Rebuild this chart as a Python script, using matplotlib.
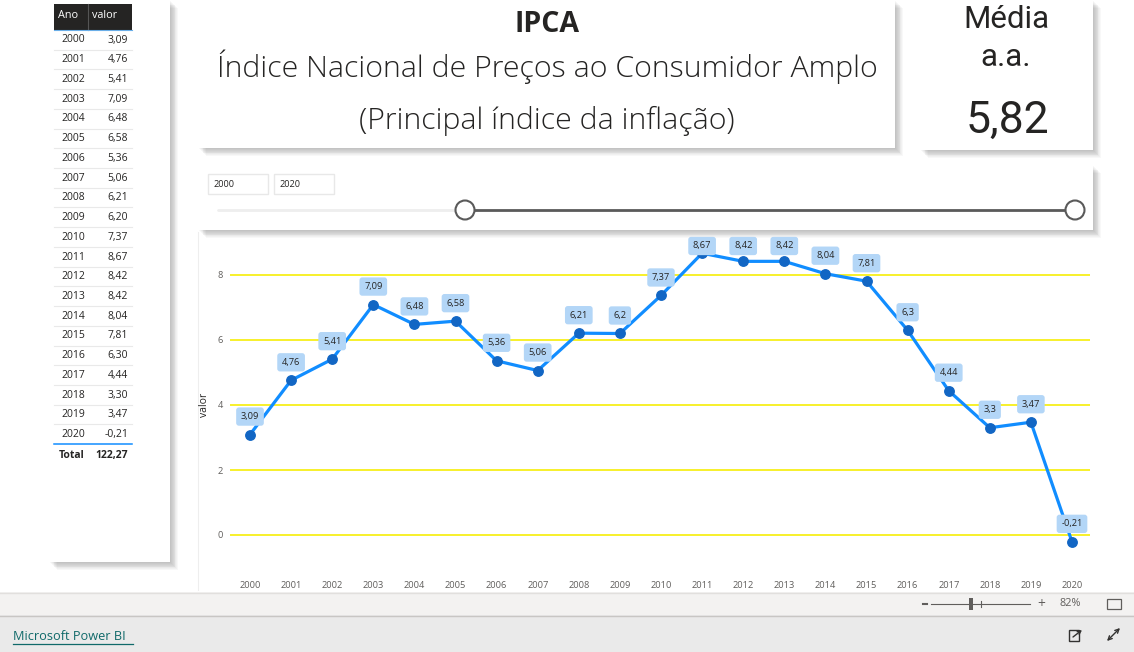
import numpy as np
import matplotlib.pyplot as plt
from matplotlib.patches import Rectangle, Circle

anos = [2000, 2001, 2002, 2003, 2004, 2005, 2006, 2007, 2008, 2009, 2010,
        2011, 2012, 2013, 2014, 2015, 2016, 2017, 2018, 2019, 2020]
valor = [3.09, 4.76, 5.41, 7.09, 6.48, 6.58, 5.36, 5.06, 6.21, 6.20, 7.37,
         8.67, 8.42, 8.42, 8.04, 7.81, 6.30, 4.44, 3.30, 3.47, -0.21]
yticks = [0, 2, 4, 6, 8]

titulo = "IPCA"
subtitulo = "Índice Nacional de Preços ao Consumidor Amplo"
nota = "(Principal índice da inflação)"

FONT = ['Open Sans', 'DejaVu Sans']
TXT = '#252423'
GRAY = '#605E5C'


def br(v, nd=2):
    return f"{v:.{nd}f}".replace('.', ',')


def br_short(v):
    return f"{v:g}".replace('.', ',')


W, H = 1134, 652
fig = plt.figure(figsize=(W / 100, H / 100), dpi=100)
fig.patch.set_facecolor('white')
bg = fig.add_axes([0, 0, 1, 1])
bg.set_xlim(0, W)
bg.set_ylim(H, 0)
bg.axis('off')
bg.set_zorder(0)


def card(x0, y0, x1, y1, z, shadow=True):
    if shadow:
        for i in range(1, 10):
            bg.add_patch(Rectangle((x0 + i * 0.9, y0 + i * 0.9), x1 - x0, y1 - y0,
                                   color='black', alpha=0.028, lw=0, zorder=z))
    bg.add_patch(Rectangle((x0, y0), x1 - x0, y1 - y0, color='white', lw=0, zorder=z + 0.5))


# cards
card(198, 232, 1093, 592, 1, shadow=False)
bg.plot([198, 198], [232, 590], color='#eeeeee', lw=0.8, zorder=2)
card(198, 165, 1093, 230, 3)
card(198, 0, 895, 148, 5)
card(920, 0, 1093, 150, 7)
card(49, 0, 170, 562, 9)

# title card
bg.text(547, 25, titulo, ha='center', va='center', fontsize=20.5, fontweight='bold',
        color=TXT, family=FONT, zorder=20)
bg.text(547, 67, subtitulo, ha='center', va='center', fontsize=21.8, fontweight='light',
        color=TXT, family=FONT, zorder=20)
bg.text(547, 121, nota, ha='center', va='center', fontsize=21.8, fontweight='light',
        color=TXT, family=FONT, zorder=20)

# average card
media = sum(valor) / len(valor)
NUM = ['Roboto', 'DejaVu Sans']
bg.text(1006, 20, "Média", ha='center', va='center', fontsize=22.5, color=TXT,
        family=NUM, zorder=20)
bg.text(1006, 58, "a.a.", ha='center', va='center', fontsize=22.5, color=TXT,
        family=NUM, zorder=20)
bg.text(1007, 121, br(media), ha='center', va='center', fontsize=32, color=TXT,
        family=NUM, zorder=20)

# slicer
for bx, txt in [(208, str(min(anos))), (274, str(max(anos)))]:
    bg.add_patch(Rectangle((bx, 174), 60, 20, fc='white', ec='#e8e8e8', lw=1, zorder=20))
    bg.text(bx + 5, 184.5, txt, ha='left', va='center', fontsize=6.6, color=TXT,
            family=FONT, zorder=21)
bg.plot([218, 465], [210, 210], color='#eeeeee', lw=2, zorder=20, solid_capstyle='round')
bg.plot([465, 1075], [210, 210], color='#5a5a5a', lw=2, zorder=20)
for cx in [465, 1075]:
    bg.add_patch(Circle((cx, 210), 9.5, fc='white', ec='#5a5a5a', lw=1.5, zorder=22))

# table
bg.add_patch(Rectangle((54, 4), 78, 26, color='#252423', lw=0, zorder=20))
bg.plot([88, 88], [4, 30], color='#555555', lw=0.8, zorder=21)
bg.plot([54, 132], [30, 30], color='#6aaee8', lw=0.8, zorder=21)
bg.text(58, 15, "Ano", ha='left', va='center', fontsize=7.8, color='white',
        family=FONT, zorder=22)
bg.text(92, 15, "valor", ha='left', va='center', fontsize=7.8, color='white',
        family=FONT, zorder=22)
row_h = 19.73
for i, (a, v) in enumerate(zip(anos, valor)):
    yc = 40 + i * row_h
    bg.text(61, yc, str(a), ha='left', va='center', fontsize=7.5, color=TXT,
            family=FONT, zorder=22)
    bg.text(128, yc, br(v), ha='right', va='center', fontsize=7.5, color=TXT,
            family=FONT, zorder=22)
    if i < len(anos) - 1:
        bg.plot([54, 132], [yc + 9.6, yc + 9.6], color='#e9e9e9', lw=0.8, zorder=21)
ylast = 40 + (len(anos) - 1) * row_h
bg.plot([54, 132], [ylast + 9.7, ylast + 9.7], color='#118DFF', lw=1.1, zorder=21)
bg.text(59, ylast + 20.5, "Total", ha='left', va='center', fontsize=7.5, color=TXT,
        fontweight='bold', family=FONT, zorder=22)
bg.text(128, ylast + 20.5, br(sum(valor)), ha='right', va='center', fontsize=7.5,
        color=TXT, fontweight='bold', family=FONT, zorder=22)

# bottom bars
bg.add_patch(Rectangle((0, 592), W, 23, color='#f3f2f1', lw=0, zorder=30))
bg.plot([0, W], [592.5, 592.5], color='#e1dfdd', lw=1, zorder=31)
bg.add_patch(Rectangle((0, 615), W, 37, color='#eaeaea', lw=0, zorder=30))
bg.plot([0, W], [615.5, 615.5], color='#c8c6c4', lw=1, zorder=31)
bg.text(13, 636, "Microsoft Power BI", ha='left', va='center', fontsize=9.2,
        color='#106a6a', family=FONT, zorder=32)
bg.plot([13, 133], [644, 644], color='#106a6a', lw=0.9, zorder=32)

# zoom control
bg.plot([923, 927], [604, 604], color=GRAY, lw=1.5, zorder=32)
bg.plot([931, 1030], [604, 604], color=GRAY, lw=0.8, zorder=32)
bg.add_patch(Rectangle((969, 598), 4, 12, color=GRAY, lw=0, zorder=33))
bg.plot([981, 981], [601, 607], color=GRAY, lw=0.8, zorder=32)
bg.text(1041, 604, "+", ha='center', va='center', fontsize=10, color=GRAY, family=FONT, zorder=32)
bg.text(1070, 604, "82%", ha='center', va='center', fontsize=7.8, color=GRAY, family=FONT, zorder=32)
bg.add_patch(Rectangle((1106.5, 599), 14, 10, fc='none', ec=GRAY, lw=0.9, zorder=32))

# bottom icons
bg.add_patch(Rectangle((1069, 630), 10, 11, fc='none', ec='#323130', lw=1, zorder=32))
bg.annotate("", xy=(1082, 630), xytext=(1073, 637), zorder=33,
            arrowprops=dict(arrowstyle='->', color='#323130', lw=1, mutation_scale=6,
                            shrinkA=0, shrinkB=0))
bg.annotate("", xy=(1120, 628), xytext=(1107, 641), zorder=33,
            arrowprops=dict(arrowstyle='<->', color='#323130', lw=1, mutation_scale=7,
                            shrinkA=0, shrinkB=0))

# line chart
ax_l, ax_r, ax_t, ax_b = 230, 1090, 245, 550
ax = fig.add_axes([ax_l / W, 1 - ax_b / H, (ax_r - ax_l) / W, (ax_b - ax_t) / H])
ax.set_zorder(1)
ax.patch.set_alpha(0)
px_year = (1072 - 250) / 20
px_unit = (535 - 275) / 8
ax.set_xlim(anos[0] - (250 - ax_l) / px_year, anos[-1] + (ax_r - 1072) / px_year)
ax.set_ylim(-(ax_b - 535) / px_unit, 8 + (275 - ax_t) / px_unit)
for s in ax.spines.values():
    s.set_visible(False)
ax.set_yticks(yticks)
ax.set_xticks(anos)
ax.tick_params(axis='both', length=0, labelsize=6.7, labelcolor=GRAY)
ax.tick_params(axis='x', pad=22)
ax.tick_params(axis='y', pad=5)
for lab in ax.get_xticklabels() + ax.get_yticklabels():
    lab.set_family(FONT)
ax.grid(axis='y', color='#F7EF1A', lw=1.3)
ax.set_axisbelow(True)
ax.set_ylabel("valor", fontsize=7.5, color=TXT, family=FONT)
ax.yaxis.set_label_coords((210 - ax_l) / (ax_r - ax_l), (ax_b - 405) / (ax_b - ax_t))

ax.plot(anos, valor, color='#118DFF', lw=2.3, zorder=3,
        marker='o', markersize=6.8, markerfacecolor='#1266c4', markeredgecolor='#1266c4')

top_lab = 8 + (275 - 246) / px_unit
for a, v in zip(anos, valor):
    ly = min(v + 18 / px_unit, top_lab)
    ax.text(a, ly, br_short(v), ha='center', va='center', fontsize=6.7, color=TXT,
            family=FONT, zorder=5,
            bbox=dict(boxstyle='round,pad=0.5,rounding_size=0.3', fc='#b3d6f7', ec='none'))

fig.savefig("out.png", dpi=100)
